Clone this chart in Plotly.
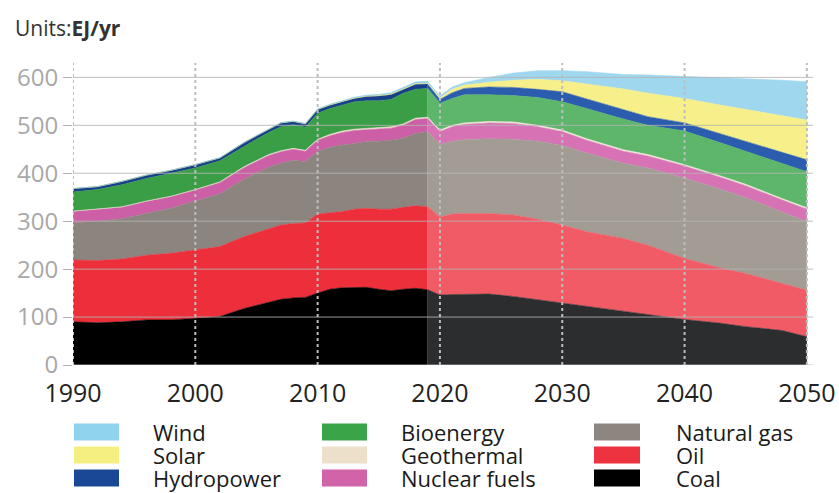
import plotly.graph_objects as go

# ---------------- data (EJ/yr) ----------------
SOURCES = ["Coal", "Oil", "Natural gas", "Nuclear fuels", "Geothermal",
           "Bioenergy", "Hydropower", "Solar", "Wind"]  # bottom -> top

HIST_YEARS = [1990, 1992, 1994, 1996, 1998, 2000, 2002, 2004, 2005, 2006, 2007,
              2008, 2009, 2010, 2011, 2012, 2013, 2014, 2015, 2016, 2017, 2018, 2019]
HIST_COAL = [90, 88, 90, 94, 94, 97, 101, 118, 124, 131, 137, 140, 141, 150, 158, 161,
             162, 162, 158, 155, 158, 160, 157]
HIST_OIL = [129, 130, 131, 135, 139, 143, 146, 150, 152, 154, 155, 155, 155, 165, 160,
            159, 163, 165, 167, 170, 171, 172, 173]
HIST_GAS = [78, 82, 84, 87, 94, 102, 110, 120, 125, 128, 129, 132, 128, 131, 136, 139,
            137, 139, 142, 144, 144, 151, 157]
HIST_NUCLEAR = [23, 24, 24, 25, 24, 23, 23, 24, 24, 24, 24, 23, 22, 23, 24, 26, 27, 25,
                25, 25, 27, 29, 27]
HIST_GEOTHERMAL = [1, 1, 1, 1, 1, 1, 2, 2, 2, 2, 2, 2, 2, 2, 3, 3, 3, 3, 3, 3, 3, 3, 3]
HIST_BIO = [40, 41, 46, 47, 48, 45, 44, 43, 44, 46, 50, 49, 48, 54, 54, 54, 57, 57, 56,
            57, 64, 60, 60]
HIST_HYDRO = [7, 6, 7, 7, 6, 7, 6, 7, 7, 7, 8, 7, 7, 8, 7, 7, 7, 9, 10, 10, 8, 10, 9]
HIST_SOLAR = [0, 0, 0, 0, 0, 0, 0, 0, 0, 0, 0.1, 0.1, 0.1, 0.2, 0.3, 0.4, 0.5, 0.7, 0.9,
              1.1, 1.4, 1.7, 2]
HIST_WIND = [0, 0, 0, 0, 0, 0.1, 0.2, 0.3, 0.4, 0.5, 0.6, 0.8, 1, 1.2, 1.5, 1.7, 2, 2.2,
             2.5, 2.8, 3.1, 3.5, 4]

PROJ_YEARS = [2019, 2020, 2021, 2022, 2024, 2026, 2028, 2030, 2032, 2035, 2037, 2040,
              2043, 2045, 2048, 2050]
PROJ_COAL = [157, 146, 147, 147, 148, 143, 136, 130, 122, 113, 106, 95, 87, 80, 72, 59]
PROJ_OIL = [173, 163, 168, 169, 168, 170, 168, 162, 156, 151, 144, 127, 115, 111, 98, 97]
PROJ_GAS = [157, 151, 152, 154, 156, 158, 163, 166, 164, 157, 161, 168, 164, 158, 149, 143]
PROJ_NUCLEAR = [27, 27, 30, 32, 33, 33, 30, 29, 27, 25, 25, 25, 25, 25, 25, 26]
PROJ_GEOTHERMAL = [3, 3, 3, 3, 3, 3, 3, 3, 3, 3, 3, 3, 3, 3, 3, 3]
PROJ_BIO = [60, 56, 56, 59, 56, 55, 58, 59, 63, 64, 61, 70, 69, 69, 73, 75]
PROJ_HYDRO = [9, 8, 12, 13, 16, 17, 17, 21, 20, 19, 18, 17, 19, 20, 23, 25]
PROJ_SOLAR = [2, 3, 7, 7, 10, 15, 21, 23, 31, 44, 49, 51, 60, 67, 76, 83]
PROJ_WIND = [4, 4, 5, 5, 10, 15, 18, 21, 26, 30, 38, 46, 58, 64, 75, 80]

X_TICKS = [1990, 2000, 2010, 2020, 2030, 2040, 2050]
Y_TICKS = [0, 100, 200, 300, 400, 500, 600]
LEGEND_ROWS = [["Wind", "Bioenergy", "Natural gas"],
               ["Solar", "Geothermal", "Oil"],
               ["Hydropower", "Nuclear fuels", "Coal"]]

hist = dict(zip(SOURCES, [HIST_COAL, HIST_OIL, HIST_GAS, HIST_NUCLEAR, HIST_GEOTHERMAL,
                          HIST_BIO, HIST_HYDRO, HIST_SOLAR, HIST_WIND]))
proj = dict(zip(SOURCES, [PROJ_COAL, PROJ_OIL, PROJ_GAS, PROJ_NUCLEAR, PROJ_GEOTHERMAL,
                          PROJ_BIO, PROJ_HYDRO, PROJ_SOLAR, PROJ_WIND]))

# ---------------- styles ----------------
HIST_COLORS = {"Coal": "#000000", "Oil": "#ec2f3b", "Natural gas": "#8b847f",
               "Nuclear fuels": "#cd5fa6", "Geothermal": "#efe3cf", "Bioenergy": "#3a9e47",
               "Hydropower": "#183f8c", "Solar": "#f2ea7a", "Wind": "#8ccfe8"}
PROJ_COLORS = {"Coal": "#2b2d2f", "Oil": "#f15b65", "Natural gas": "#a39c95",
               "Nuclear fuels": "#d772b4", "Geothermal": "#f3ebdc", "Bioenergy": "#5db66a",
               "Hydropower": "#2b5cad", "Solar": "#f7ef8a", "Wind": "#9fd7ef"}
LEGEND_COLORS = {"Wind": "#90d3ef", "Solar": "#f5ef82", "Hydropower": "#1a4896",
                 "Bioenergy": "#3aa548", "Geothermal": "#ede0cb", "Nuclear fuels": "#d163a8",
                 "Natural gas": "#8c8580", "Oil": "#ee3340", "Coal": "#000000"}

FONT = "Open Sans"
W, H = 839, 493
L, R, T, B = 73, 26, 63, 128
PW, PH = W - L - R, H - T - B


def px_x(px):
    return (px - L) / PW


def px_y(py):
    return (H - B - py) / PH


fig = go.Figure()
for name in SOURCES:
    fig.add_trace(go.Scatter(x=HIST_YEARS, y=hist[name], stackgroup="hist", mode="lines",
                             line=dict(width=0.6, color=HIST_COLORS[name]),
                             fillcolor=HIST_COLORS[name], name=name, showlegend=False,
                             hoverinfo="skip"))
for name in SOURCES:
    fig.add_trace(go.Scatter(x=PROJ_YEARS, y=proj[name], stackgroup="proj", mode="lines",
                             line=dict(width=0.6, color=PROJ_COLORS[name]),
                             fillcolor=PROJ_COLORS[name], name=name, showlegend=False,
                             hoverinfo="skip"))

shapes = []
for v in Y_TICKS:
    shapes.append(dict(type="line", xref="paper", yref="y", x0=0, x1=1, y0=v, y1=v,
                       line=dict(color="rgba(180,180,180,0.85)", width=1), layer="above"))
for yr in X_TICKS:
    shapes.append(dict(type="line", xref="x", yref="paper", x0=yr, x1=yr, y0=0, y1=1,
                       line=dict(color="#bdbdbd", width=2, dash="dot"), layer="above"))

annotations = [dict(xref="paper", yref="paper", x=px_x(13), y=px_y(28), xanchor="left",
                    yanchor="middle", showarrow=False,
                    text="Units:<b>EJ/yr</b>", font=dict(family=FONT, size=21, color="#333333"))]

col_sw = [(74, 119), (322, 367), (594, 640)]
col_tx = [152, 400, 675]
row_y = [432, 455, 478]
for r, row in enumerate(LEGEND_ROWS):
    for c, name in enumerate(row):
        shapes.append(dict(type="rect", xref="paper", yref="paper",
                           x0=px_x(col_sw[c][0]), x1=px_x(col_sw[c][1]),
                           y0=px_y(row_y[r] + 8.5), y1=px_y(row_y[r] - 8.5),
                           fillcolor=LEGEND_COLORS[name], line=dict(width=0)))
        annotations.append(dict(xref="paper", yref="paper", x=px_x(col_tx[c]), y=px_y(row_y[r]),
                                xanchor="left", yanchor="middle", showarrow=False, text=name,
                                borderpad=0,
                                font=dict(family=FONT, size=22, color="#1a1a1a")))

fig.update_layout(
    width=W, height=H, margin=dict(l=L, r=R, t=T, b=B, autoexpand=False),
    paper_bgcolor="white", plot_bgcolor="white", showlegend=False,
    font=dict(family=FONT),
    shapes=shapes, annotations=annotations,
    xaxis=dict(range=[1990, 2050.5], tickvals=X_TICKS, showgrid=False, zeroline=False,
               showline=False, ticks="", ticklabelstandoff=11, automargin=False,
               tickfont=dict(family=FONT, size=25, color="#222222")),
    yaxis=dict(range=[0, 630], tickvals=Y_TICKS, showgrid=False, zeroline=False,
               showline=False, ticks="outside", ticklen=9, tickcolor="#b0b0b0",
               tickwidth=1, automargin=False,
               tickfont=dict(family=FONT, size=24, color="#a8a8a8")),
)

fig.write_html("out.html", config={"displayModeBar": False},
               post_script="document.body.style.margin='0px';document.body.style.padding='0px';")
